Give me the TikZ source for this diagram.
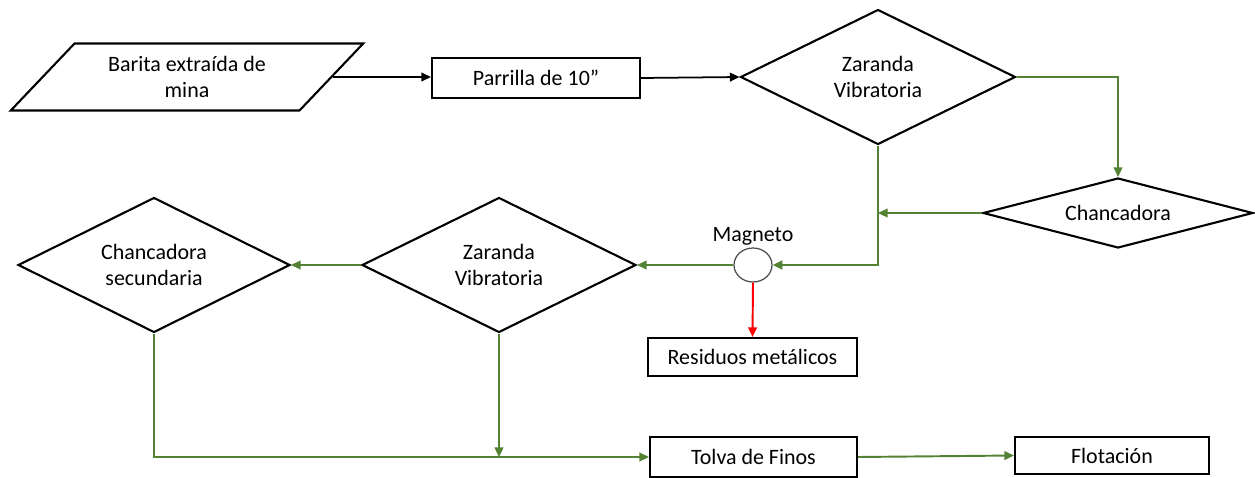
\documentclass[tikz,border=0pt]{standalone}
\usepackage{fontspec}
\setmainfont{Carlito}
\usetikzlibrary{shapes.geometric,arrows.meta,positioning}
\definecolor{flowgreen}{RGB}{84,130,53}

\begin{document}
\begin{tikzpicture}[x=0.02cm,y=-0.02cm,
  every node/.style={font=\fontsize{12.5}{14.5}\selectfont,align=center},
  box/.style={rectangle,draw,line width=1.2pt,inner sep=0pt},
  rombo/.style={diamond,draw,line width=1.2pt,inner sep=0pt,aspect=2},
  blackflow/.style={line width=1pt,-{Triangle[length=5.5pt,width=5pt]}},
  greenflow/.style={flowgreen,line width=1.1pt,-{Triangle[length=5.5pt,width=5pt]}},
  redflow/.style={red,line width=1.1pt,-{Triangle[length=5.5pt,width=5pt]}}]
  \useasboundingbox (0,0) rectangle (1255,477);

  % Upper row
  \node[trapezium,draw,line width=1.2pt,trapezium left angle=42.5,trapezium right angle=137.5,
        trapezium stretches=true,minimum width=7.06cm,minimum height=1.34cm,inner sep=0pt]
        (barita) at (187,77) {Barita extraída de\\mina};
  \node[box,minimum width=4.16cm,minimum height=0.8cm] (parrilla) at (536,78) {Parrilla de 10”};
  \node[rombo,minimum width=5.5cm,minimum height=2.7cm] (zar1) at (878,77) {Zaranda\\Vibratoria};
  \node[rombo,minimum width=5.4cm,minimum height=1.4cm] (chanc) at (1118,213) {Chancadora};

  % Middle row
  \node[ellipse,draw=black!70,line width=0.7pt,minimum width=0.76cm,minimum height=0.68cm,
        label={[inner sep=1pt]above:Magneto}] (mag) at (753,265) {};
  \node[rombo,minimum width=5.48cm,minimum height=2.7cm] (zar2) at (499,265) {Zaranda\\Vibratoria};
  \node[rombo,minimum width=5.44cm,minimum height=2.7cm] (chsec) at (154,265) {Chancadora\\secundaria};
  \node[box,minimum width=4.18cm,minimum height=0.76cm] (resid) at (752.5,357) {Residuos metálicos};

  % Lower row
  \node[box,minimum width=4.14cm,minimum height=0.8cm] (tolva) at (753.5,457) {Tolva de Finos};
  \node[box,minimum width=3.88cm,minimum height=0.74cm] (flot) at (1112,455.5) {Flotación};

  % Connections
  \draw[blackflow] (barita.east) -- (barita.east -| parrilla.west);
  \draw[blackflow] (parrilla.east) -- (zar1.west);
  \draw[greenflow] (zar1.east) -| (chanc.north);
  \draw[greenflow] (chanc.west) -- (chanc.west -| zar1.south);
  \draw[greenflow] (zar1.south) |- (mag.east);
  \draw[greenflow] (mag.west) -- (zar2.east);
  \draw[redflow] (mag.south) -- (resid.north);
  \draw[greenflow] (zar2.west) -- (chsec.east);
  \draw[greenflow] (chsec.south) |- (tolva.west);
  \draw[greenflow] (zar2.south) -- (zar2.south |- tolva.west);
  \draw[greenflow] (tolva.east) -- (flot.west);
\end{tikzpicture}
\end{document}
